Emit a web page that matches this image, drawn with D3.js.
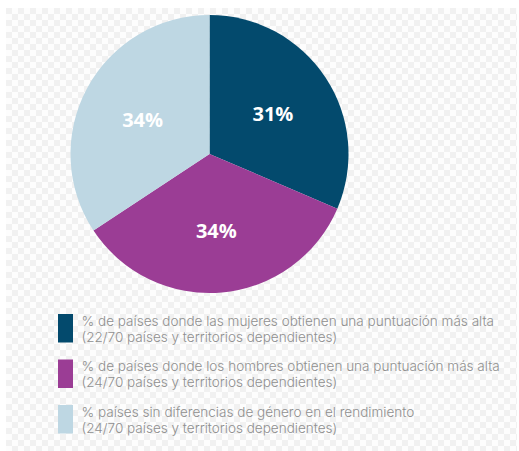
<!DOCTYPE html>
<html>
<head>
<meta charset="utf-8">
<script src="https://cdn.jsdelivr.net/npm/d3@7"></script>
<style>
  body { margin: 0; background: #fff; }
  svg { display: block; }
</style>
</head>
<body>
<script>
// datos: número de países de 70
var categories = ["mujeres", "hombres", "sin diferencias"];
var values = [22, 24, 24];
var sliceLabels = ["31%", "34%", "34%"];
var legendLines = [
  ["% de países donde las mujeres obtienen una puntuación más alta", "(22/70 países y territorios dependientes)"],
  ["% de países donde los hombres obtienen una puntuación más alta", "(24/70 países y territorios dependientes)"],
  ["% países sin diferencias de género en el rendimiento", "(24/70 países y territorios dependientes)"]
];
var colors = ["#034a6d", "#9b3d95", "#bed7e3"];

var width = 519, height = 451;
var cx = 209.5, cy = 154, radius = 139;

var svg = d3.select("body").append("svg")
  .attr("width", width)
  .attr("height", height);

// fondo a cuadros
var pattern = svg.append("defs").append("pattern")
  .attr("id", "checker")
  .attr("patternUnits", "userSpaceOnUse")
  .attr("x", 6).attr("y", 8)
  .attr("width", 12).attr("height", 12);
pattern.append("rect").attr("width", 12).attr("height", 12).attr("fill", "#fdfdfd");
pattern.append("rect").attr("width", 6).attr("height", 6).attr("fill", "#f1f1f1");
pattern.append("rect").attr("x", 6).attr("y", 6).attr("width", 6).attr("height", 6).attr("fill", "#f1f1f1");

svg.append("rect")
  .attr("x", 6).attr("y", 8)
  .attr("width", 511).attr("height", 443)
  .attr("fill", "url(#checker)");

var pie = d3.pie().sort(null).value(function(d) { return d; });
var arcs = pie(values);

var arc = d3.arc().innerRadius(0).outerRadius(radius);
var labelArc = d3.arc().innerRadius(76).outerRadius(76);

var g = svg.append("g")
  .attr("transform", "translate(" + cx + "," + cy + ")");

g.selectAll(".slice")
  .data(arcs)
  .enter()
  .append("path")
  .attr("class", "slice")
  .attr("d", arc)
  .attr("fill", function(d, i) { return colors[i]; });

g.selectAll(".lbl")
  .data(arcs)
  .enter()
  .append("text")
  .attr("class", "lbl")
  .attr("transform", function(d) {
    var c = labelArc.centroid(d);
    return "translate(" + c[0] + "," + (c[1] + 1.5) + ")";
  })
  .attr("text-anchor", "middle")
  .attr("dy", "0.36em")
  .style("font-family", "'Open Sans', sans-serif")
  .style("font-weight", "bold")
  .style("font-size", "20px")
  .style("fill", "#fff")
  .text(function(d, i) { return sliceLabels[i]; });

// leyenda
var legend = svg.append("g")
  .attr("transform", "translate(58,314)");

var item = legend.selectAll(".item")
  .data(categories)
  .enter()
  .append("g")
  .attr("class", "item")
  .attr("transform", function(d, i) { return "translate(0," + (i * 45.5) + ")"; });

item.append("rect")
  .attr("width", 15)
  .attr("height", 28.5)
  .attr("fill", function(d, i) { return colors[i]; });

var lines = item.selectAll(".line")
  .data(function(d, i) { return legendLines[i]; })
  .enter()
  .append("text")
  .attr("class", "line")
  .attr("x", 23.5)
  .attr("y", function(d, j) { return 11.5 + j * 16; })
  .style("font-family", "Inter, sans-serif")
  .style("font-weight", 300)
  .style("font-size", "12.5px")
  .style("fill", "#8f8f8f")
  .text(function(d) { return d; });

// ajustar el tamaño para que la primera línea mida como en el original
var first = lines.nodes()[0];
var fs = 12.5 * 413 / first.getComputedTextLength();
lines.style("font-size", fs + "px");
</script>
</body>
</html>
